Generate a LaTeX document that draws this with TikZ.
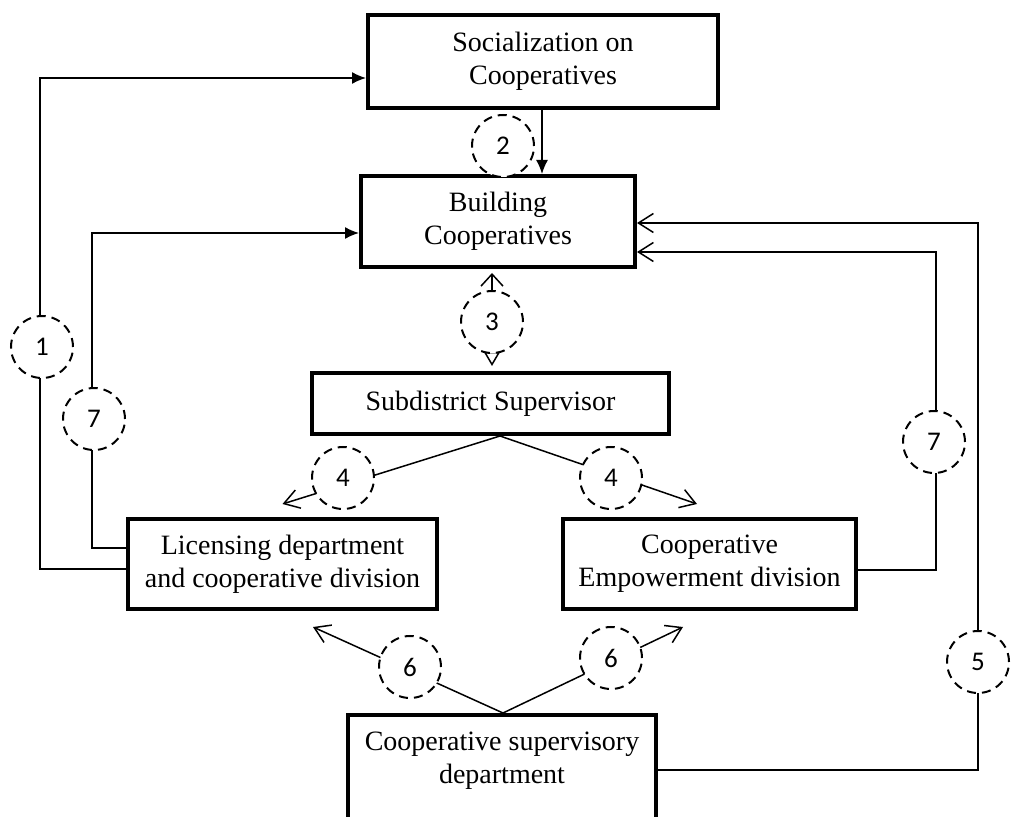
\documentclass[tikz,border=0pt]{standalone}
\usepackage{fontspec}
\setmainfont{Liberation Serif}
\newfontfamily\numfont{Carlito}
\usetikzlibrary{calc,arrows.meta}
\tikzset{
  box/.style={draw, line width=2pt, align=center, inner sep=0pt, font=\fontsize{14}{16.5}\selectfont},
  num/.style={draw, circle, fill=white, dash pattern=on 4.5pt off 3pt, line width=1pt, minimum size=31pt, inner sep=0pt, font=\numfont\fontsize{13.5}{13.5}\selectfont},
  link/.style={line width=0.75pt},
  fillhead/.style={-{Latex[length=7pt,width=6pt]}},
  openhead/.style={-{Straight Barb[length=7.5pt,width=9.5pt]}},
}
\begin{document}
\begin{tikzpicture}[x=0.5pt,y=-0.5pt]
        \useasboundingbox (0,0) rectangle (1033,817);
        \clip (0,0) rectangle (1033,817);
        % boxes
        \node (soc) at (543,61.5)[box, minimum width=175pt, minimum height=46.5pt]{Socialization on\\Cooperatives};
        \node (build) at (498,221.5)[box, minimum width=137pt, minimum height=45.5pt]{Building\\Cooperatives};
        \node (sub) at (490.5,403.5)[box, minimum width=178.5pt, minimum height=30.5pt]{Subdistrict Supervisor};
        \node (lic) at (282.5,564)[box, minimum width=154.5pt, minimum height=45pt]{Licensing department\\and cooperative division};
        \node (emp) at (709.5,564)[box, minimum width=146.5pt, minimum height=45pt]{Cooperative\\Empowerment division};
        \node (sup) at (502,775)[box, minimum width=154pt, minimum height=60pt]{};
        \node (suptext) at (502,761)[align=center, font=\fontsize{14}{16.5}\selectfont]{Cooperative supervisory\\department};
        % connectors
        \draw[link, fillhead]($(lic.west)+(0,5)$) -| ($(soc.west)+(-326,16.5)$) -- ($(soc.west)+(0,16.5)$);
        \draw[link, fillhead]($(lic.west)+(0,-16)$) -| ($(build.west)+(-267,11.5)$) -- ($(build.west)+(0,11.5)$);
        \draw[link, fillhead]($(soc.south)+(-1,0)$) -- ($(build.north)+(44,0)$);
        \draw[link, {Straight Barb[length=6pt,width=11pt]}-{Triangle[open,length=7pt,width=8pt]}, shorten <=2pt, shorten >=2.5pt]($(build.south)+(-6,0)$) -- ($(sub.north)+(1.5,0)$);
        \draw[link, openhead]($(sub.south)+(9.5,0)$) -- ($(lic.north)+(0,-13)$);
        \draw[link, openhead]($(sub.south)+(9.5,0)$) -- ($(emp.north)+(-12.5,-13)$);
        \draw[link, openhead]($(sup.north)+(1,0)$) -- ($(lic.south)+(30.5,16)$);
        \draw[link, openhead]($(sup.north)+(1,0)$) -- ($(emp.south)+(-26.5,16)$);
        \draw[link, openhead]($(emp.east)+(0,6)$) -| ($(build.east)+(299,30.5)$) -- ($(build.east)+(0,30.5)$);
        \draw[link, openhead]($(sup.east)+(0,-5)$) -| ($(build.east)+(341,1.5)$) -- ($(build.east)+(0,1.5)$);
        % step numbers
        \node (n1) at (42,347)[num]{1};
        \node (n2) at (503,146)[num]{2};
        \node (n3) at (492,322)[num]{3};
        \node (n4a) at (343,478)[num]{4};
        \node (n4b) at (611,478)[num]{4};
        \node (n5) at (978,662)[num]{5};
        \node (n6a) at (410,667)[num]{6};
        \node (n6b) at (611,658)[num]{6};
        \node (n7a) at (94,419)[num]{7};
        \node (n7b) at (934,442)[num]{7};
\end{tikzpicture}
\end{document}
